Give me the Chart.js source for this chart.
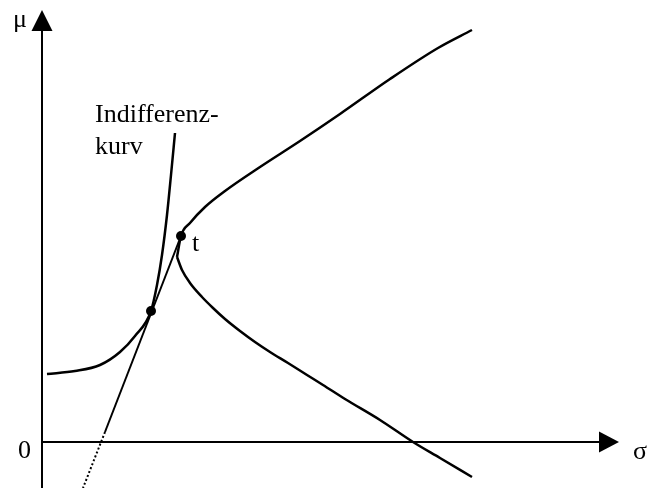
<!DOCTYPE html>
<html>
<head>
<meta charset="utf-8">
<script src="https://cdn.jsdelivr.net/npm/chart.js@4.4.1/dist/chart.umd.min.js"></script>
<style>
  html, body { margin: 0; padding: 0; background: #fff; }
  #wrap { width: 648px; height: 488px; position: relative; }
</style>
</head>
<body>
<div id="wrap"><canvas id="mv_chart"></canvas></div>
<script>
// Effizienzkurve (σ, μ), oberer und unterer Ast
const frontierUpper = [
  {x: 135, y: 185}, {x: 139, y: 206}, {x: 148, y: 219}, {x: 163, y: 235},
  {x: 183, y: 251}, {x: 218, y: 275}, {x: 258, y: 301}, {x: 298, y: 328},
  {x: 348, y: 363}, {x: 396, y: 394}, {x: 430, y: 412}
];
const frontierLower = [
  {x: 135, y: 185}, {x: 140, y: 172}, {x: 148, y: 159}, {x: 160, y: 145},
  {x: 171, y: 134}, {x: 183, y: 123}, {x: 198, y: 111}, {x: 213, y: 100},
  {x: 228, y: 90}, {x: 246, y: 79}, {x: 265, y: 67}, {x: 281, y: 57},
  {x: 303, y: 43}, {x: 338, y: 22}, {x: 371, y: 0}, {x: 398, y: -16},
  {x: 430, y: -35}
];
// Indifferenzkurve
const indifference = [
  {x: 5, y: 68}, {x: 33, y: 71}, {x: 58, y: 77}, {x: 78, y: 90},
  {x: 93, y: 106}, {x: 109, y: 131}, {x: 115, y: 157}, {x: 120, y: 187},
  {x: 125, y: 227}, {x: 129, y: 267}, {x: 133, y: 309}
];
// Tangente durch t
const tangentSolid = [{x: 139, y: 206}, {x: 63, y: 10}];
const tangentDotted = [{x: 63, y: 10}, {x: 41, y: -46}];
// Tangentialpunkte
const markedPoints = [{x: 109, y: 131}, {x: 139, y: 206}];
// Achsen
const yAxisLine = [{x: 0, y: -46}, {x: 0, y: 412}];
const xAxisLine = [{x: 0, y: 0}, {x: 558, y: 0}];

const curve = (data, extra) => Object.assign({
  data: data,
  borderColor: '#000',
  borderWidth: 2.5,
  pointRadius: 0,
  fill: false,
  cubicInterpolationMode: 'monotone'
}, extra || {});

// Pfeilspitzen und Beschriftungen
const decorPlugin = {
  id: 'decor',
  afterDatasetsDraw(chart) {
    const ctx = chart.ctx;
    const sx = chart.scales.x, sy = chart.scales.y;
    const px = v => sx.getPixelForValue(v);
    const py = v => sy.getPixelForValue(v);
    ctx.save();
    ctx.fillStyle = '#000';
    // Pfeil μ-Achse
    ctx.beginPath();
    ctx.moveTo(px(0), py(432));
    ctx.lineTo(px(0) + 10.5, py(411));
    ctx.lineTo(px(0) - 10.5, py(411));
    ctx.closePath();
    ctx.fill();
    // Pfeil σ-Achse
    ctx.beginPath();
    ctx.moveTo(px(577), py(0));
    ctx.lineTo(px(557), py(0) - 10.5);
    ctx.lineTo(px(557), py(0) + 10.5);
    ctx.closePath();
    ctx.fill();
    // Texte
    ctx.font = "26px 'Liberation Serif', 'Times New Roman', serif";
    ctx.textAlign = 'left';
    ctx.textBaseline = 'alphabetic';
    const labels = [
      ['μ', -29, 415], ['0', -24, -16], ['σ', 591, -17], ['t', 150, 191],
      ['Indifferenz-', 53, 320], ['kurv', 53, 288]
    ];
    labels.forEach(([txt, x, y]) => ctx.fillText(txt, px(x), py(y)));
    ctx.restore();
  }
};

const ctx = document.getElementById('mv_chart').getContext('2d');
const mv_chart = new Chart(ctx, {
  type: 'line',
  data: {
    datasets: [
      curve(yAxisLine, {borderWidth: 2, cubicInterpolationMode: 'default', tension: 0}),
      curve(xAxisLine, {borderWidth: 2, cubicInterpolationMode: 'default', tension: 0}),
      curve(frontierUpper),
      curve(frontierLower),
      curve(indifference),
      curve(tangentSolid, {borderWidth: 2, tension: 0}),
      curve(tangentDotted, {borderWidth: 2, borderDash: [2, 2.2], tension: 0}),
      {
        data: markedPoints,
        showLine: false,
        pointRadius: 5,
        pointBackgroundColor: '#000',
        pointBorderColor: '#000',
        pointBorderWidth: 0
      }
    ]
  },
  options: {
    responsive: true,
    maintainAspectRatio: false,
    animation: false,
    layout: { padding: 0, autoPadding: false },
    scales: {
      x: { type: 'linear', min: -42, max: 606, display: false },
      y: { type: 'linear', min: -46, max: 442, display: false }
    },
    plugins: {
      legend: { display: false },
      tooltip: { enabled: false },
      title: { display: false }
    },
    elements: { line: { borderCapStyle: 'butt' } }
  },
  plugins: [decorPlugin]
});
</script>
</body>
</html>
